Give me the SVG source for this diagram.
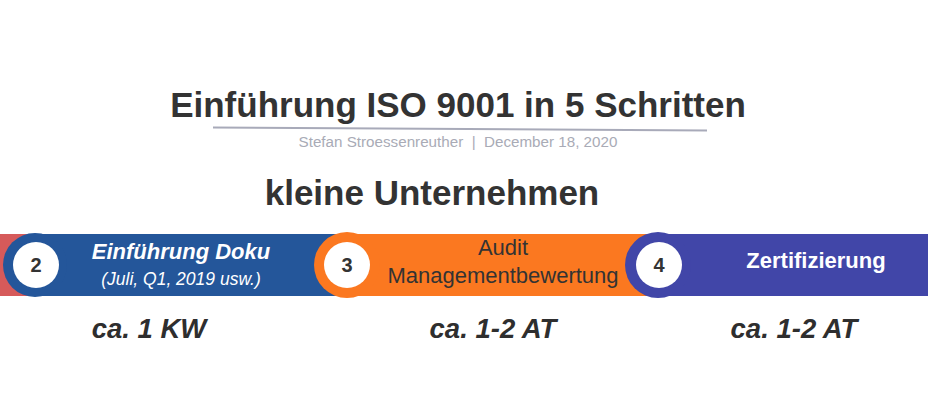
<svg xmlns="http://www.w3.org/2000/svg" width="930" height="419" viewBox="0 0 930 419">
<style>
text{font-family:"Liberation Sans",Arial,sans-serif;}
.title{font-size:35px;font-weight:bold;fill:#333333;text-anchor:middle;}
.sub{font-size:15.2px;fill:#a9abb6;text-anchor:middle;}
.num{font-size:20px;font-weight:bold;fill:#333333;text-anchor:middle;}
.wb{font-size:22px;font-weight:bold;fill:#ffffff;text-anchor:middle;}
.dur{font-size:27.5px;font-weight:bold;font-style:italic;fill:#2e2e2e;text-anchor:middle;}
.badge{fill:#ffffff;}
</style>
<rect width="930" height="419" fill="#ffffff"/>
<g id="header">
<text class="title" x="458" y="117">Einführung ISO 9001 in 5 Schritten</text>
<line x1="213" y1="127.5" x2="707" y2="130.5" stroke="#a8aab9" stroke-width="2"/>
<text class="sub" x="458" y="147" xml:space="preserve">Stefan Stroessenreuther  |  December 18, 2020</text>
<text class="title" x="432" y="205">kleine Unternehmen</text>
</g>
<g id="step1">
<rect x="0" y="234" width="45" height="62" fill="#d65a5a"/>
</g>
<g id="step2">
<rect x="35" y="234" width="320" height="62" fill="#24569a"/>
<circle cx="35" cy="265" r="32" fill="#24569a"/>
<circle class="badge" cx="36" cy="265" r="23"/>
<text class="num" x="36" y="272">2</text>
<text class="wb" x="181" y="259" font-style="italic">Einführung Doku</text>
<text x="181" y="285" font-size="17.5" font-style="italic" fill="#ffffff" text-anchor="middle">(Juli, Q1, 2019 usw.)</text>
</g>
<g id="step3">
<rect x="347" y="234" width="318" height="62" fill="#fb7820"/>
<circle cx="347" cy="265" r="33" fill="#fb7820"/>
<circle class="badge" cx="347" cy="265" r="23"/>
<text class="num" x="347" y="272">3</text>
<text x="503" y="255" font-size="22" fill="#333333" text-anchor="middle">Audit</text>
<text x="503" y="283" font-size="22" fill="#333333" text-anchor="middle">Managementbewertung</text>
</g>
<g id="step4">
<rect x="658" y="234" width="270" height="62" fill="#4146a8"/>
<circle cx="658" cy="265" r="33" fill="#4146a8"/>
<circle class="badge" cx="659" cy="265" r="23"/>
<text class="num" x="659" y="272">4</text>
<text class="wb" x="816" y="268">Zertifizierung</text>
</g>
<g id="durations">
<text class="dur" x="149" y="338">ca. 1 KW</text>
<text class="dur" x="493" y="338">ca. 1-2 AT</text>
<text class="dur" x="794" y="338">ca. 1-2 AT</text>
</g>
<g id="connectors"></g>
</svg>
